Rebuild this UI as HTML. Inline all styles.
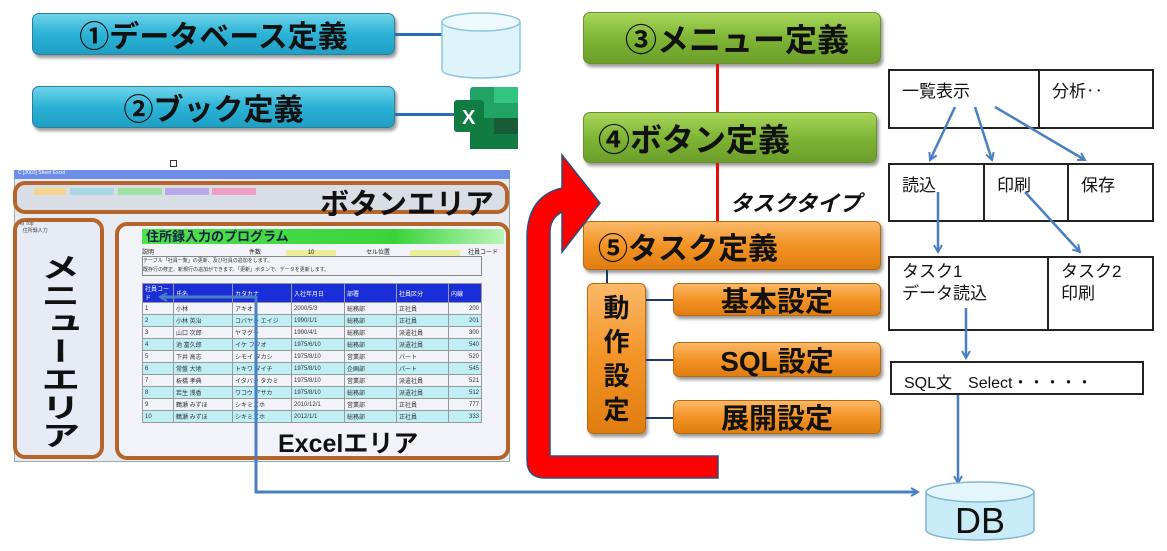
<!DOCTYPE html>
<html><head><meta charset="utf-8"><style>
*{margin:0;padding:0;box-sizing:border-box}
body{width:1167px;height:551px;background:#fff;position:relative;overflow:hidden;font-family:"Liberation Sans","Noto Sans CJK JP",sans-serif}
.a{position:absolute}
.cy{background:linear-gradient(#6fd3ea,#2bb3d6 50%,#1f9fc4);border:1px solid #2a7f99;border-radius:7px;box-shadow:2px 3px 3px #999;display:flex;align-items:center;justify-content:center;font-weight:bold;font-size:30px;color:#111}
.gr{background:linear-gradient(#a8d65a,#7fb536 50%,#6c9e2a);border:1px solid #6a8f30;border-radius:7px;box-shadow:2px 3px 3px #999;display:flex;align-items:center;font-weight:bold;font-size:32px;color:#111}
.or{background:linear-gradient(#fbb868,#f39325 50%,#e07d10);border:1px solid #b86a10;border-radius:6px;box-shadow:2px 3px 3px #999;display:flex;align-items:center;justify-content:center;font-weight:bold;font-size:28px;color:#111}
.bx{border:2px solid #222;background:#fff;font-size:17px;padding:6px 0 0 12px;color:#111}
.ob{border:4px solid #b5652a;border-radius:12px}
table{border-collapse:collapse;font-size:6px}
td{border:1px solid #999;height:12px;padding:0 2px;color:#333}
</style></head><body>
<div class="a cy" style="left:32px;top:13px;width:363px;height:42px">①データベース定義</div>
<div class="a cy" style="left:32px;top:86px;width:363px;height:42px">②ブック定義</div>
<div class="a" style="left:395px;top:33px;width:48px;height:3px;background:#2a6db5"></div>
<div class="a" style="left:395px;top:113px;width:60px;height:3px;background:#2a6db5"></div>
<svg class="a" style="left:440px;top:10px" width="84" height="70"><path d="M2,12 v48 a39,8 0 0 0 78,0 v-48" fill="#dff3fb" stroke="#8cc6dc" stroke-width="1.5"/><ellipse cx="41" cy="12" rx="39" ry="9" fill="#eef9fd" stroke="#8cc6dc" stroke-width="1.5"/></svg>
<svg class="a" style="left:452px;top:86px" width="68" height="64"><rect x="18" y="1" width="48" height="62" rx="3" fill="#21a366"/><rect x="42" y="1" width="24" height="16" fill="#33c481"/><rect x="18" y="32" width="48" height="31" fill="#107c41"/><rect x="42" y="32" width="24" height="16" fill="#185c37"/><rect x="2" y="14" width="30" height="32" rx="3" fill="#107c41"/><text x="10" y="38" font-size="20" fill="#fff" font-weight="bold" font-family="Liberation Sans">X</text></svg>
<div class="a" style="left:170px;top:160px;width:7px;height:7px;border:1px solid #333"></div>
<div class="a" style="left:14px;top:170px;width:496px;height:292px;background:#e8eaf2;border:1px solid #9aa"></div>
<div class="a" style="left:14px;top:170px;width:496px;height:9px;background:#6d8ee6;font-size:5px;color:#fff;padding-left:4px">C [2003] Sheet Excel</div>
<div class="a ob" style="left:13px;top:181px;width:496px;height:33px;background:#d9dde5"></div>
<div class="a" style="left:34px;top:188px;width:32px;height:7px;background:#f3d490"></div>
<div class="a" style="left:70px;top:188px;width:44px;height:7px;background:#a9d6e6"></div>
<div class="a" style="left:118px;top:188px;width:44px;height:7px;background:#9fe29f"></div>
<div class="a" style="left:165px;top:188px;width:44px;height:7px;background:#b7a9ea"></div>
<div class="a" style="left:212px;top:188px;width:44px;height:7px;background:#ef9fc2"></div>
<div class="a" style="left:320px;top:181px;font-size:29px;font-weight:bold;color:#111">ボタンエリア</div>
<div class="a ob" style="left:13px;top:218px;width:91px;height:241px;background:#e6ebf6"></div>
<div class="a" style="left:20px;top:221px;font-size:5px;color:#444">⊟ Top<br>&nbsp;&nbsp;住所録入力</div>
<div class="a" style="left:42px;top:253px;width:32px;height:200px;font-size:28px;line-height:32px;font-weight:bold;writing-mode:vertical-rl;color:#111;transform:scaleX(1.4);transform-origin:center top">メニューエリア</div>
<div class="a ob" style="left:115px;top:222px;width:395px;height:238px;background:#f2f3f8"></div>
<div class="a" style="left:142px;top:229px;width:362px;height:15px;background:linear-gradient(90deg,#4ee04e,#3ad43a 70%,#baf5ba);font-size:13px;font-weight:bold;color:#124;padding-left:4px;line-height:15px">住所録入力のプログラム</div>
<div class="a" style="left:142px;top:247px;width:362px;height:7px;font-size:6px;color:#222">説明<span style="margin-left:95px">件数</span><span style="display:inline-block;width:50px;background:#e8ee9a;margin-left:25px;text-align:center">10</span><span style="margin-left:30px">セル位置</span><span style="display:inline-block;width:50px;background:#e8ee9a;margin-left:20px">&nbsp;</span><span style="margin-left:8px">社員コード</span></div>
<div class="a" style="left:142px;top:256px;width:340px;height:20px;border:1px solid #888;font-size:5px;color:#333;line-height:9px">テーブル「社員一覧」の更新、及び社員の追加をします。<br>既存行の修正、新規行の追加ができます。「更新」ボタンで、データを更新します。</div>
<table class="a" style="left:142px;top:283px;width:340px">
<tr style="background:#1a2ed8;color:#fff"><td style="color:#fff;width:31px">社員コード</td><td style="color:#fff;width:59px">氏名</td><td style="color:#fff;width:59px">カタカナ</td><td style="color:#fff;width:53px">入社年月日</td><td style="color:#fff;width:52px">部署</td><td style="color:#fff;width:52px">社員区分</td><td style="color:#fff">内線</td></tr>
<tr><td>1</td><td>小林</td><td>アキオ</td><td>2000/5/3</td><td>総務部</td><td>正社員</td><td align=right>200</td></tr>
<tr style="background:#bfeef5"><td>2</td><td>小林 英治</td><td>コバヤシ エイジ</td><td>1990/1/1</td><td>総務部</td><td>正社員</td><td align=right>201</td></tr>
<tr><td>3</td><td>山口 次郎</td><td>ヤマグチ</td><td>1990/4/1</td><td>総務部</td><td>派遣社員</td><td align=right>300</td></tr>
<tr style="background:#bfeef5"><td>4</td><td>池 富久郎</td><td>イケ フクオ</td><td>1975/6/10</td><td>総務部</td><td>派遣社員</td><td align=right>540</td></tr>
<tr><td>5</td><td>下井 高志</td><td>シモイ タカシ</td><td>1975/8/10</td><td>営業部</td><td>パート</td><td align=right>520</td></tr>
<tr style="background:#bfeef5"><td>6</td><td>常盤 大地</td><td>トキワ ダイチ</td><td>1975/8/10</td><td>企画部</td><td>パート</td><td align=right>545</td></tr>
<tr><td>7</td><td>板橋 孝典</td><td>イタバシ タカミ</td><td>1975/8/10</td><td>営業部</td><td>派遣社員</td><td align=right>521</td></tr>
<tr style="background:#bfeef5"><td>8</td><td>若生 浅香</td><td>ワコウ アサカ</td><td>1975/8/10</td><td>総務部</td><td>派遣社員</td><td align=right>512</td></tr>
<tr><td>9</td><td>鶴瀬 みずほ</td><td>シキミズホ</td><td>2010/12/1</td><td>営業部</td><td>正社員</td><td align=right>777</td></tr>
<tr style="background:#bfeef5"><td>10</td><td>鶴瀬 みずほ</td><td>シキミズホ</td><td>2012/1/1</td><td>総務部</td><td>正社員</td><td align=right>333</td></tr>
</table>
<div class="a" style="left:278px;top:424px;font-size:25px;font-weight:bold;color:#111">Excelエリア</div>
<div class="a gr" style="left:583px;top:12px;width:298px;height:52px;justify-content:center;padding-left:10px">③メニュー定義</div>
<div class="a gr" style="left:583px;top:112px;width:294px;height:51px;padding-left:14px">④ボタン定義</div>
<div class="a" style="left:716px;top:64px;width:3px;height:48px;background:#e01010"></div>
<div class="a" style="left:716px;top:163px;width:3px;height:58px;background:#e01010"></div>
<div class="a" style="left:730px;top:186px;font-size:22px;font-weight:bold;font-style:italic;color:#111">タスクタイプ</div>
<div class="a or" style="left:583px;top:221px;width:298px;height:49px;justify-content:flex-start;padding-left:14px;font-size:30px">⑤タスク定義</div>
<div class="a" style="left:606px;top:270px;width:2px;height:14px;background:#1c3a66"></div>
<div class="a or" style="left:587px;top:283px;width:59px;height:151px;flex-direction:column;font-size:26px;line-height:34px">動<br>作<br>設<br>定</div>
<div class="a" style="left:646px;top:299px;width:27px;height:2px;background:#1c3a66"></div>
<div class="a" style="left:646px;top:359px;width:27px;height:2px;background:#1c3a66"></div>
<div class="a" style="left:646px;top:417px;width:27px;height:2px;background:#1c3a66"></div>
<div class="a or" style="left:673px;top:283px;width:208px;height:33px">基本設定</div>
<div class="a or" style="left:673px;top:342px;width:208px;height:35px">SQL設定</div>
<div class="a or" style="left:673px;top:400px;width:208px;height:34px">展開設定</div>
<div class="a bx" style="left:888px;top:69px;width:152px;height:60px">一覧表示</div>
<div class="a bx" style="left:1038px;top:69px;width:116px;height:60px">分析‥</div>
<div class="a bx" style="left:888px;top:163px;width:97px;height:59px">読込</div>
<div class="a bx" style="left:983px;top:163px;width:86px;height:59px">印刷</div>
<div class="a bx" style="left:1067px;top:163px;width:87px;height:59px">保存</div>
<div class="a bx" style="left:888px;top:256px;width:161px;height:75px;line-height:22px;padding-top:3px">タスク1<br>データ読込</div>
<div class="a bx" style="left:1047px;top:256px;width:107px;height:75px;line-height:22px;padding-top:3px">タスク2<br>印刷</div>
<div class="a bx" style="left:890px;top:361px;width:254px;height:34px;font-size:16px;padding-top:6px">SQL文　Select・・・・・</div>
<svg class="a" style="left:0;top:0" width="1167" height="551">
<defs><marker id="m" markerWidth="10" markerHeight="10" refX="8" refY="5" orient="auto" markerUnits="userSpaceOnUse"><path d="M1,1 L8,5 L1,9" fill="none" stroke="#4a7fc1" stroke-width="2"/></marker></defs>
<g stroke="#4a7fc1" stroke-width="2.5" fill="none">
<line x1="955" y1="107" x2="930" y2="160" marker-end="url(#m)"/>
<line x1="975" y1="107" x2="992" y2="160" marker-end="url(#m)"/>
<line x1="995" y1="107" x2="1085" y2="160" marker-end="url(#m)"/>
<line x1="938" y1="192" x2="938" y2="252" marker-end="url(#m)"/>
<line x1="1025" y1="192" x2="1080" y2="252" marker-end="url(#m)"/>
<line x1="966" y1="308" x2="966" y2="358" marker-end="url(#m)"/>
<line x1="958" y1="395" x2="958" y2="483" marker-end="url(#m)"/>
<polyline points="256,462 256,492 918,492" marker-end="url(#m)" stroke-width="3"/>
<polyline points="256,462 256,297 160,297" marker-end="url(#m)" stroke-width="3"/>
</g>
<path d="M926,492 v38 a54,10 0 0 0 108,0 v-38" fill="#c9eaf7" stroke="#7fb7cf" stroke-width="1.5"/>
<ellipse cx="980" cy="492" rx="54" ry="10" fill="#e4f5fc" stroke="#7fb7cf" stroke-width="1.5"/>
<text x="980" y="533" font-size="36" text-anchor="middle" fill="#111" font-family="Liberation Sans">DB</text>
<path d="M718,456 L550,456 Q550,456 550,440 L550,232 Q550,218 562,212 L562,252 L600,203 L562,155 L562,188 Q528,196 527,236 L527,460 Q527,478 545,478 L718,478 Z" fill="#ff0000" stroke="#2a4f7f" stroke-width="1.5"/>
</svg>
</body></html>
